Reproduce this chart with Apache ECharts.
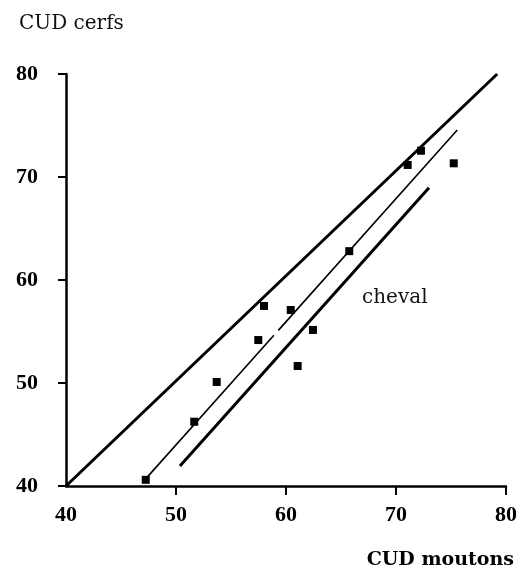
<!DOCTYPE html>
<html><head><meta charset="utf-8">
<script src="https://cdn.jsdelivr.net/npm/echarts@6/dist/echarts.min.js"></script>
<style>html,body{margin:0;padding:0;background:#fff}#c{width:520px;height:568px}</style>
</head><body><div id="c"></div>
<script>
const xTicks = [40, 50, 60, 70, 80];
const yTicks = [40, 50, 60, 70, 80];
const points = [
  [47.25, 40.6], [51.66, 46.24], [53.7, 50.1], [57.48, 54.17], [58.0, 57.48],
  [60.43, 57.09], [62.45, 55.15], [61.06, 51.65], [65.75, 62.8], [71.06, 71.17],
  [72.27, 72.55], [75.25, 71.33]
];
const diagLine = [[40, 40], [79.2, 80]];
const regLineA = [[47, 40.4], [58.9, 54.63]];
const regLineB = [[59.3, 55.11], [75.57, 74.56]];
const chevalLine = [[50.36, 41.94], [73.0, 68.96]];
const yTitle = 'CUD cerfs';
const xTitle = 'CUD moutons';
const chevalLabel = 'cheval';

const chart = echarts.init(document.getElementById('c'));
const tickFont = {color: '#000', fontFamily: 'Liberation Serif', fontWeight: 'bold', fontSize: 22};
chart.setOption({
  animation: false,
  backgroundColor: '#fff',
  grid: {left: 66, right: 14, top: 74, bottom: 82, containLabel: false},
  title: [
    {text: yTitle, left: 14, top: 9, textStyle: {fontFamily: 'DejaVu Serif', fontWeight: 'normal', fontSize: 20, color: '#111'}},
    {text: xTitle, right: 1, top: 546, textStyle: {fontFamily: 'DejaVu Serif', fontWeight: 'bold', fontSize: 19, color: '#000'}}
  ],
  xAxis: {
    type: 'value', min: 40, max: 80, interval: 10,
    axisLine: {show: true, onZero: false, lineStyle: {color: '#000', width: 2.5}},
    axisTick: {show: true, length: 9, lineStyle: {color: '#000', width: 2}, customValues: xTicks.slice(1)},
    axisLabel: {margin: 18, ...tickFont, customValues: xTicks},
    splitLine: {show: false}
  },
  yAxis: {
    type: 'value', min: 40, max: 80, interval: 10,
    axisLine: {show: true, onZero: false, lineStyle: {color: '#000', width: 2.5}},
    axisTick: {show: true, length: 8, lineStyle: {color: '#000', width: 2}, customValues: yTicks},
    axisLabel: {margin: 28, ...tickFont, customValues: yTicks},
    splitLine: {show: false}
  },
  series: [
    {type: 'line', data: diagLine, symbol: 'none', lineStyle: {color: '#000', width: 3}},
    {type: 'line', data: chevalLine, symbol: 'none', lineStyle: {color: '#000', width: 3}},
    {type: 'line', data: regLineA, symbol: 'none', lineStyle: {color: '#000', width: 1.6}},
    {type: 'line', data: regLineB, symbol: 'none', lineStyle: {color: '#000', width: 1.6}},
    {type: 'scatter', data: points, symbol: 'rect', symbolSize: 8, itemStyle: {color: '#000', opacity: 1}, z: 5}
  ],
  graphic: [
    {type: 'text', left: 362, top: 288, style: {text: chevalLabel, fontFamily: 'DejaVu Serif', fontSize: 20, fill: '#111'}}
  ]
});
</script></body></html>
